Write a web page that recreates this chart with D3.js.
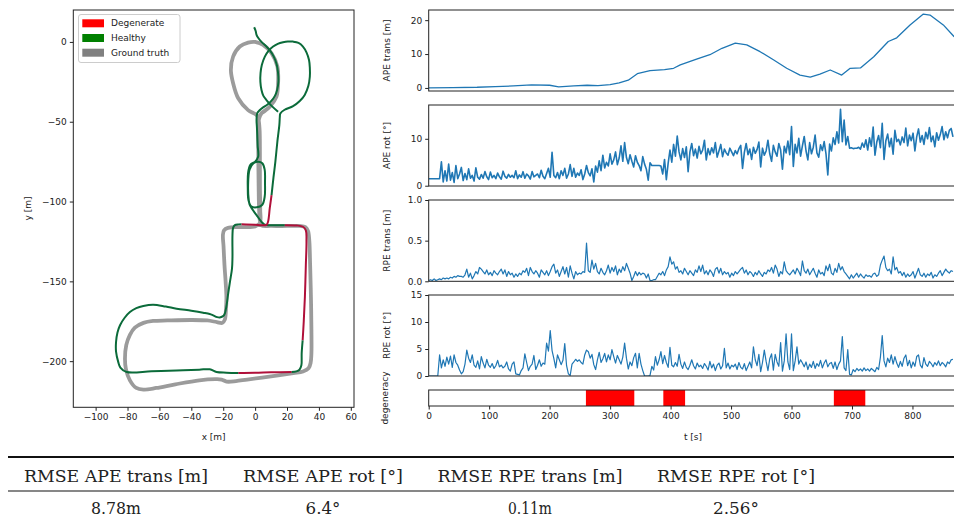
<!DOCTYPE html>
<html><head><meta charset="utf-8">
<script src="https://cdn.jsdelivr.net/npm/d3@7"></script>
<style>
body{margin:0;background:#fff;}
svg{display:block;}
text{fill:#222;}
</style>
</head><body>
<svg id="c" width="954" height="519"></svg>
<script>
// ---------------- DATA ----------------
// estimated trajectory: [x, y, degenerate flag of segment to next point]
const estPoints = [
[-0.6,9.2,0],[0.3,7.0,0],[0.9,4.4,0],[1.9,2.6,0],[4.0,0.0,0],[7.1,-2.9,0],[9.6,-5.8,0],[11.7,-9.2,0],[13.5,-14,0],[14.4,-19.6,0],
[14.6,-25,0],[13.8,-30.1,0],[12.4,-33.8,0],[10.3,-36.8,0],[7.8,-39.2,0],[5.0,-41,0],[2.8,-42.8,0],[1.3,-44.7,0],[0.9,-48.9,0],[1.1,-53,0],
[1.3,-57.3,0],[1.6,-65,0],[1.9,-72,0],[0,-75,0],[-3,-77,0],[-4.4,-82,0],[-4.6,-92,0],[-4.2,-99,0],[-2.5,-103,0],[1,-103.6,0],
[4.5,-102,0],[6,-97,0],[6.2,-88,0],[6,-80,0],[4.5,-76,0],[2,-75,0],[-1,-76,0],[-3.5,-80,0],[-4.4,-90,0],[-4,-99,0],
[-3.3,-102.3,0],[0.9,-108.5,0],[4,-112.7,0],[6,-114.5,0],[10,-114.8,0],[18.6,-114.8,1],[26,-115,1],[30,-115.8,1],[31.8,-118,1],[32.2,-125,1],
[31.8,-140,1],[31.2,-160,1],[30.5,-175,1],[29.8,-187,0],[29.2,-195,0],[29,-202.6,0],[27.8,-205.4,0],[25.9,-206.4,0],[22.8,-206.8,1],[10,-207,1],
[0,-207.3,1],[-10.6,-207.4,0],[-18,-207.2,0],[-24.2,-206.8,0],[-28.4,-205.1,0],[-35,-205.3,0],[-49.2,-205.8,0],[-65,-206.3,0],[-80.5,-206.8,0],[-84.5,-204,0],
[-85.8,-200.6,0],[-87.2,-194,0],[-87.2,-188,0],[-86.3,-182,0],[-84.7,-177.5,0],[-81.8,-172.8,0],[-78.5,-169.2,0],[-74.5,-166.8,0],[-70.1,-165.4,0],[-63.9,-164.6,0],
[-56,-165.8,0],[-49.2,-167.1,0],[-40,-168.4,0],[-32.6,-169.6,0],[-28.5,-170.4,0],[-26.3,-171.3,0],[-23.8,-172.4,0],[-22.1,-172.6,0],[-19.8,-171.6,0],[-19,-170.2,0],
[-17.9,-165,0],[-16.8,-157,0],[-15.8,-150.4,0],[-14.5,-142,0],[-14.2,-135,0],[-14.2,-121.1,0],[-13.8,-116.5,0],[-12.7,-114.8,0],[-10.5,-114.3,0],[-8.5,-114.2,1],
[0,-114.5,1],[4,-114.8,1],[7.1,-114.6,1],[8.1,-112.7,1],[9.2,-104,1],[10.3,-96,0],[11.5,-85,0],[12.7,-75,0],[14,-62,0],[15.2,-52,0],
[15.5,-46.9,0],[15.8,-44.8,0],[18.5,-42.5,0],[23.8,-40.2,0],[28,-37,0],[31.1,-33.2,0],[33.4,-27.5,0],[34.3,-21.8,0],[34.3,-16,0],[33.8,-11.3,0],
[32.2,-6.5,0],[30,-2.9,0],[27.2,-0.6,0],[23.8,0.2,0],[20.5,0.3,0],[17.5,-0.2,0],[14.2,-1.2,0],[11.3,-2.9,0],[8.4,-5.6,0],[6.1,-9.2,0],
[4.2,-14.5,0],[3.4,-19.6,0],[3.3,-25,0],[4,-30.1,0],[5.2,-33.8,0],[7.1,-36.4,0],[10.5,-40.2,0],[14.4,-43.7,0]
];
// ground truth trajectory: [x, y]
const gtPoints = [
[0,0],[5,-1.9],[10.3,-7.1],[14,-15.5],[14.4,-25.9],[13.4,-34.3],[9.2,-40.6],[4,-44.7],[2.5,-48],[2,-55],
[2,-70],[2.2,-90],[2.5,-105],[3,-112],[4,-115],[10,-115.3],[20,-115.3],[28,-115.3],[31.5,-116],[33.2,-118.5],
[34,-125],[34.5,-140],[35,-160],[35.3,-180],[35.3,-195],[34.8,-201],[33.5,-204.5],[30,-206.5],[24,-207.5],[10,-209.5],
[-5,-211.5],[-12,-212.5],[-17.9,-212.8],[-21,-211.5],[-25,-211.3],[-35,-212],[-50,-214.5],[-62,-216.8],[-70,-217.8],[-74.5,-216.8],
[-78.5,-212],[-81,-205],[-81.6,-198.5],[-80.8,-190],[-78.5,-183.5],[-75.4,-179],[-70,-176],[-64,-174.8],[-55,-174.5],[-40,-174.2],
[-30,-174.5],[-24,-175.5],[-20.5,-176],[-19,-174],[-18.3,-168],[-18,-160],[-18.5,-150],[-19.2,-140],[-19.8,-128],[-20.2,-121],
[-19.5,-118],[-17,-116.5],[-10,-116],[0,-115.6],[3,-113.5],[3.2,-105],[3,-90],[3,-70],[2.8,-55],[2,-48],
[0.9,-45.8],[-4.4,-42.7],[-10.6,-35.3],[-13.8,-25.9],[-15.2,-17.6],[-13.8,-9.2],[-9.6,-2.9],[-4.4,-0.4],[0,0],[5,-1.9],
[10.3,-7.1],[14,-15.5],[14.4,-25.9],[13.4,-34.3],[9.2,-40.6],[4,-44.7]
];
const legendLabels = ["Degenerate","Healthy","Ground truth"];

const apeTransT = [0,40,80,110,140,170,200,215,240,262,280,300,315,330,345,366,390,405,416,443,465,485,507,526,548,570,592,614,631,647,664,683,697,714,736,760,774,796,818,829,851,869];
const apeTransV = [0.0,0.1,0.2,0.4,0.6,0.9,0.8,0.3,0.6,0.8,0.7,1.0,1.5,2.3,4.2,5.1,5.4,5.8,6.8,8.5,9.8,11.7,13.2,12.7,10.7,8.3,5.8,3.8,3.2,4.1,5.3,3.8,5.8,5.9,9.2,13.7,14.8,18.6,21.8,21.5,18.6,15.1];

const sampleStep = 3; // seconds between samples of the series below
const apeRot = [
1.5,1.5,1.5,1.5,1.5,1.5,1.5,5.1,0.8,3.2, 1.0,4.6,1.2,2.8,0.7,4.3,1.5,2.5,3.9,1.1,
2.6,1.3,3.6,1.6,2.2,1.0,3.8,1.8,1.4,2.4, 1.6,3.0,1.9,1.3,2.9,1.7,2.2,1.5,2.7,1.9,
1.4,3.1,2.0,1.6,2.4,1.8,2.2,1.7,3.2,1.5, 2.3,1.8,3.0,1.6,2.5,2.1,1.4,3.0,1.9,2.2,
2.5,1.7,3.3,2.0,1.5,2.6,3.7,1.8,7.1,2.2, 1.7,2.8,1.5,3.2,2.2,3.7,1.6,2.5,4.5,2.0,
3.7,1.8,2.7,2.2,3.4,1.3,2.5,4.3,2.8,2.1, 3.6,0.8,4.2,2.9,5.3,3.2,6.5,3.8,5.0,4.2,
6.8,4.6,5.5,7.2,4.5,5.9,8.5,5.2,9.2,6.0, 4.7,6.6,5.2,4.0,6.4,5.0,4.3,3.2,6.2,4.6,
3.5,1.2,4.9,4.3,4.3,4.3,4.3,4.3,4.2,2.5, 5.6,1.3,4.8,7.6,5.0,8.8,6.3,10.6,7.2,5.5,
7.9,6.0,8.3,3.0,7.2,9.0,6.4,7.8,5.9,8.4, 6.8,7.6,9.7,5.5,7.9,6.6,8.1,7.0,9.2,6.1,
7.4,8.8,6.2,7.8,7.0,6.5,8.0,7.2,6.4,7.5, 6.8,7.9,8.6,3.7,7.1,9.0,6.6,7.8,5.6,8.2,
6.9,7.7,9.3,4.0,8.0,6.5,7.4,9.7,6.8,5.2, 8.6,7.2,6.3,9.0,7.6,3.5,8.4,7.0,9.5,6.6,
12.6,4.1,8.8,7.0,10.1,6.3,8.5,10.5,7.4,5.5, 9.2,6.8,8.2,10.8,7.0,6.1,8.7,7.5,9.4,6.8,
2.3,8.9,7.4,10.2,8.8,11.5,9.1,16.3,9.4,14.0, 8.7,10.5,8.0,8.1,7.9,8.0,8.0,8.2,7.8,9.1,
8.2,9.8,7.6,10.2,8.4,12.5,6.5,9.3,10.7,8.1, 13.3,5.6,9.6,11.0,8.3,10.1,6.7,11.8,9.4,9.9,
8.7,10.4,9.2,12.3,8.5,10.8,9.6,11.2,7.4,10.4, 12.1,9.3,10.7,8.8,11.4,10.0,12.4,9.4,10.6,8.3,
11.3,9.7,10.9,12.6,9.8,11.5,10.2,11.8,12.2,10.4
];
const rpeTrans = [
0.01,0.02,0.01,0.03,0.01,0.02,0.03,0.02,0.04,0.03, 0.04,0.03,0.05,0.04,0.06,0.05,0.07,0.06,0.06,0.05,
0.08,0.15,0.05,0.10,0.03,0.07,0.12,0.09,0.17,0.15, 0.12,0.09,0.14,0.08,0.11,0.07,0.13,0.10,0.08,0.12,
0.15,0.09,0.14,0.06,0.12,0.08,0.10,0.05,0.09,0.06, 0.10,0.08,0.13,0.11,0.16,0.07,0.17,0.12,0.09,0.13,
0.10,0.05,0.14,0.11,0.08,0.13,0.07,0.12,0.18,0.21, 0.10,0.14,0.06,0.12,0.18,0.09,0.17,0.05,0.19,0.10,
0.03,0.12,0.08,0.10,0.09,0.12,0.11,0.47,0.13,0.11, 0.26,0.15,0.22,0.12,0.09,0.16,0.11,0.08,0.13,0.20,
0.10,0.17,0.12,0.19,0.08,0.15,0.11,0.18,0.13,0.22, 0.16,0.10,0.01,0.06,0.12,0.07,0.11,0.08,0.10,0.09,
0.04,0.09,0.01,0.01,0.02,0.02,0.06,0.10,0.08,0.12, 0.07,0.14,0.18,0.30,0.21,0.24,0.15,0.18,0.11,0.13,
0.09,0.16,0.12,0.08,0.13,0.10,0.07,0.14,0.11,0.19, 0.12,0.20,0.09,0.13,0.08,0.14,0.11,0.06,0.15,0.17,
0.10,0.16,0.08,0.12,0.09,0.11,0.05,0.10,0.07,0.12, 0.09,0.12,0.15,0.17,0.10,0.14,0.08,0.12,0.10,0.06,
0.11,0.08,0.13,0.09,0.06,0.11,0.09,0.14,0.12,0.17, 0.10,0.20,0.15,0.06,0.12,0.09,0.24,0.13,0.10,0.08,
0.11,0.14,0.09,0.16,0.12,0.07,0.25,0.13,0.10,0.15, 0.08,0.12,0.16,0.10,0.05,0.14,0.09,0.11,0.07,0.19,
0.13,0.21,0.10,0.08,0.16,0.11,0.22,0.14,0.18,0.12, 0.09,0.06,0.03,0.08,0.04,0.07,0.10,0.05,0.09,0.06,
0.04,0.08,0.06,0.07,0.05,0.09,0.10,0.06,0.08,0.20, 0.26,0.31,0.17,0.13,0.15,0.09,0.30,0.14,0.17,0.10,
0.12,0.07,0.11,0.05,0.09,0.06,0.08,0.12,0.04,0.10, 0.16,0.08,0.06,0.10,0.05,0.09,0.07,0.11,0.04,0.08,
0.06,0.10,0.13,0.07,0.11,0.15,0.12,0.10,0.13,0.12
];
const rpeRot = [
0.0,0.0,0.0,0.0,0.0,0.0,3.9,1.5,3.0,1.8, 3.5,2.2,3.7,1.6,3.9,2.5,2.0,1.1,0.4,0.8,
2.2,4.8,3.3,2.5,3.9,2.0,1.6,2.8,1.3,3.6, 2.4,1.5,3.1,2.0,1.6,2.3,1.4,1.9,2.9,1.7,
2.0,1.5,1.8,2.6,1.3,0.9,2.2,2.6,0.4,0.3, 0.2,1.0,1.5,4.1,2.5,1.0,1.8,2.2,3.8,1.2,
2.0,3.0,1.8,2.4,2.2,6.1,4.6,8.4,4.7,3.2, 1.5,3.9,3.0,2.1,2.9,6.0,1.9,0.4,0.1,2.2,
2.6,3.1,2.7,3.0,2.5,2.2,3.9,4.8,4.5,3.3, 4.0,2.1,1.2,3.0,4.4,2.5,3.2,4.2,2.6,3.9,
3.0,4.9,3.6,2.4,3.8,3.0,2.2,3.5,6.1,3.3, 1.3,2.6,1.9,3.4,4.2,1.5,4.2,2.2,1.0,0.0,
0.0,0.0,0.1,1.8,1.1,3.6,2.0,3.0,4.5,2.3, 3.8,2.5,1.6,5.3,2.0,1.7,2.5,1.8,4.0,2.2,
1.4,2.6,1.6,1.2,2.0,3.0,1.9,1.3,2.4,1.7, 2.0,1.4,2.3,1.8,1.1,2.7,1.5,2.2,1.0,2.0,
2.4,1.3,1.9,5.1,1.5,2.4,1.3,2.0,1.7,2.2, 1.2,2.5,1.6,1.3,2.3,1.0,1.8,2.6,1.5,5.4,
3.0,1.9,4.0,0.8,2.5,4.8,2.7,1.0,3.2,4.1, 1.1,4.0,2.6,1.8,6.2,0.9,2.8,7.8,2.6,1.2,
7.8,1.0,2.8,5.4,2.2,3.0,2.4,1.7,2.6,1.2, 2.2,1.6,2.7,1.4,2.3,1.8,2.9,1.5,2.4,3.0,
1.7,2.3,2.5,1.4,2.6,1.2,2.2,2.8,7.3,1.5, 1.0,4.9,0.3,0.2,1.2,0.8,1.4,1.0,1.3,0.9,
1.5,1.0,1.3,0.9,1.4,1.1,0.8,1.6,1.2,3.5, 7.5,2.8,1.7,3.3,2.5,3.9,2.2,3.6,2.4,1.6,
2.7,1.8,3.3,3.9,1.9,2.9,1.5,2.6,1.8,3.6, 3.9,2.0,1.5,3.4,2.2,1.8,2.7,2.3,1.7,2.5,
2.0,2.8,1.9,2.5,2.2,1.7,2.6,2.3,3.0,3.1
];
const degenerateStart = [260, 388, 670];
const degenerateEnd = [340, 424, 722];
const timeTicks = [0,100,200,300,400,500,600,700,800];
const tableHeaders = ["RMSE APE trans [m]","RMSE APE rot [°]","RMSE RPE trans [m]","RMSE RPE rot [°]"];
const tableValues = ["8.78m","6.4°","0.11m","2.56°"];

// ---------------- DRAW ----------------
const svg = d3.select("#c");
const fmtMinus = d => (d < 0 ? "\u2212" + Math.abs(d) : String(d));
const FS = 9;
const SANS = "'DejaVu Sans', sans-serif";
const SERIF = "'DejaVu Serif', serif";
function styleAxis(a) {
  a.select(".domain").remove();
  a.selectAll("text").style("font-size", FS + "px").style("font-family", SANS).style("fill", "#222");
  a.selectAll("line").attr("stroke", "#222");
}
function label(sel) { return sel.style("font-size", FS + "px").style("font-family", SANS); }

// ===== Left: trajectory =====
const L = {x0: 73.3, x1: 354, y0: 10, y1: 407.3};
const tx = d3.scaleLinear().domain([-114, 62]).range([L.x0, L.x1]);
const ty = d3.scaleLinear().domain([-228.9, 20]).range([L.y1, L.y0]);
svg.append("clipPath").attr("id","clipL").append("rect")
  .attr("x",L.x0).attr("y",L.y0).attr("width",L.x1-L.x0).attr("height",L.y1-L.y0);
const gL = svg.append("g").attr("clip-path","url(#clipL)");
const trajLine = d3.line().x(d=>tx(d[0])).y(d=>ty(d[1])).curve(d3.curveCatmullRom.alpha(0.5));
gL.append("path").attr("d", trajLine(gtPoints)).attr("fill","none")
  .attr("stroke","#8a8a8a").attr("stroke-width",3.8).attr("stroke-opacity",0.85)
  .attr("stroke-linejoin","round").attr("stroke-linecap","round");
// split estimated trajectory into healthy / degenerate runs
const runs = [];
let cur = {flag: estPoints[0][2], pts: [estPoints[0]]};
for (let k = 0; k < estPoints.length - 1; k++) {
  const f = estPoints[k][2];
  if (f !== cur.flag) { runs.push(cur); cur = {flag: f, pts: [estPoints[k]]}; }
  cur.pts.push(estPoints[k+1]);
}
runs.push(cur);
runs.forEach(r => {
  gL.append("path").attr("d", trajLine(r.pts)).attr("fill","none")
    .attr("stroke", r.flag ? "#b0103a" : "#0b6b3a").attr("stroke-width",2)
    .attr("stroke-linejoin","round");
});
svg.append("rect").attr("x",L.x0).attr("y",L.y0).attr("width",L.x1-L.x0).attr("height",L.y1-L.y0)
  .attr("fill","none").attr("stroke","#222").attr("stroke-width",1);
styleAxis(svg.append("g").attr("transform",`translate(0,${L.y1})`)
  .call(d3.axisBottom(tx).tickValues([-100,-80,-60,-40,-20,0,20,40,60]).tickSize(3.5).tickPadding(3).tickFormat(fmtMinus)));
styleAxis(svg.append("g").attr("transform",`translate(${L.x0},0)`)
  .call(d3.axisLeft(ty).tickValues([0,-50,-100,-150,-200]).tickSize(3.5).tickPadding(3).tickFormat(fmtMinus)));
label(svg.append("text").attr("x",(L.x0+L.x1)/2).attr("y",440).attr("text-anchor","middle")).text("x [m]");
label(svg.append("text").attr("transform","translate(28,208.5) rotate(-90)").attr("text-anchor","middle")
  .attr("dy","0.35em")).text("y [m]");

// legend
const lg = svg.append("g");
lg.append("rect").attr("x",78.5).attr("y",14.5).attr("width",101.5).attr("height",48).attr("rx",2.5)
  .attr("fill","#fff").attr("fill-opacity",0.85).attr("stroke","#cccccc").attr("stroke-width",1);
const legendColors = ["#ff0000","#008000","#808080"];
legendLabels.forEach((lab,i) => {
  const yy = 19.3 + i*14.7;
  lg.append("rect").attr("x",82.3).attr("y",yy).attr("width",21.7).attr("height",8).attr("fill",legendColors[i]);
  label(lg.append("text").attr("x",111).attr("y",yy+4).attr("dy","0.35em")).text(lab);
});

// ===== Right: time series =====
const R = {x0: 428.7, x1: 956};
const t = d3.scaleLinear().domain([0, 872]).range([R.x0, R.x1]);
const panels = [
  {key:"apeTrans", y0:10, y1:91, dom:[-0.9,23], ticks:[0,10,20], fmt:d=>d, label:"APE trans [m]", w:1.3},
  {key:"apeRot", y0:105, y1:186, dom:[-0.06,17.2], ticks:[0,10], fmt:d=>d, label:"APE rot [°]", w:1.6},
  {key:"rpeTrans", y0:200, y1:281.3, dom:[0,1], ticks:[0,0.5,1], fmt:d3.format(".1f"), label:"RPE trans [m]", w:1.2},
  {key:"rpeRot", y0:295, y1:376, dom:[0,15], ticks:[0,5,10,15], fmt:d=>d, label:"RPE rot [°]", w:1.2}
];
const seriesData = {
  apeTrans: apeTransT.map((tt,i)=>[tt, apeTransV[i]]),
  apeRot: apeRot.map((v,i)=>[i*sampleStep, v]),
  rpeTrans: rpeTrans.map((v,i)=>[i*sampleStep, v]),
  rpeRot: rpeRot.map((v,i)=>[i*sampleStep, v])
};
panels.forEach((p,pi) => {
  const y = d3.scaleLinear().domain(p.dom).range([p.y1, p.y0]);
  const cid = "clipP"+pi;
  svg.append("clipPath").attr("id",cid).append("rect")
    .attr("x",R.x0).attr("y",p.y0).attr("width",R.x1-R.x0).attr("height",p.y1-p.y0);
  svg.append("g").attr("clip-path",`url(#${cid})`).append("path")
    .attr("d", d3.line().x(d=>t(d[0])).y(d=>y(d[1]))(seriesData[p.key]))
    .attr("fill","none").attr("stroke","#1f77b4").attr("stroke-width",p.w).attr("stroke-linejoin","round");
  svg.append("rect").attr("x",R.x0).attr("y",p.y0).attr("width",R.x1-R.x0).attr("height",p.y1-p.y0)
    .attr("fill","none").attr("stroke","#222").attr("stroke-width",1);
  styleAxis(svg.append("g").attr("transform",`translate(${R.x0},0)`)
    .call(d3.axisLeft(y).tickValues(p.ticks).tickSize(3.5).tickPadding(3).tickFormat(p.fmt)));
  label(svg.append("text").attr("transform",`translate(387,${(p.y0+p.y1)/2}) rotate(-90)`)
    .attr("text-anchor","middle").attr("dy","0.35em")).text(p.label);
});

// degeneracy panel
const D = {y0: 390, y1: 406};
degenerateStart.forEach((s,i) => {
  svg.append("rect").attr("x",t(s)).attr("y",D.y0).attr("width",t(degenerateEnd[i])-t(s)).attr("height",D.y1-D.y0)
    .attr("fill","#ff0000");
});
svg.append("rect").attr("x",R.x0).attr("y",D.y0).attr("width",R.x1-R.x0).attr("height",D.y1-D.y0)
  .attr("fill","none").attr("stroke","#222").attr("stroke-width",1);
styleAxis(svg.append("g").attr("transform",`translate(0,${D.y1})`)
  .call(d3.axisBottom(t).tickValues(timeTicks).tickSize(3.5).tickPadding(3)));
label(svg.append("text").attr("x",693).attr("y",440).attr("text-anchor","middle")).text("t [s]");
label(svg.append("text").attr("transform",`translate(385,398) rotate(-90)`)
  .attr("text-anchor","middle").attr("dy","0.35em")).text("degeneracy");

// ===== Table =====
svg.append("line").attr("x1",8).attr("x2",954).attr("y1",457).attr("y2",457).attr("stroke","#111").attr("stroke-width",2);
svg.append("line").attr("x1",8).attr("x2",954).attr("y1",491).attr("y2",491).attr("stroke","#111").attr("stroke-width",1.2);
const colCenters = [116, 323, 530, 736];
const headerWidths = [184, 160, 185, 158];
const valueWidths = [50, 35, 44, 46];
tableHeaders.forEach((h,i) => {
  svg.append("text").attr("x",colCenters[i]).attr("y",482).attr("text-anchor","middle")
    .style("font-family",SERIF).style("font-size","16.5px")
    .attr("textLength",headerWidths[i]).attr("lengthAdjust","spacingAndGlyphs").text(h);
  svg.append("text").attr("x",colCenters[i]).attr("y",514).attr("text-anchor","middle")
    .style("font-family",SERIF).style("font-size","16.5px")
    .attr("textLength",valueWidths[i]).attr("lengthAdjust","spacingAndGlyphs").text(tableValues[i]);
});
</script>
</body></html>
